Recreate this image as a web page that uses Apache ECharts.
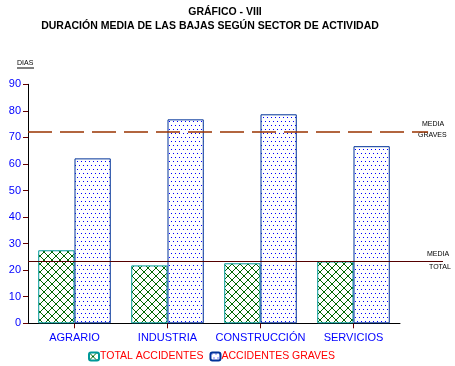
<!DOCTYPE html>
<html><head><meta charset="utf-8">
<script src="https://cdn.jsdelivr.net/npm/echarts@6/dist/echarts.min.js"></script>
<style>html,body{margin:0;padding:0;background:#fff}#c{width:455px;height:366px}</style>
</head><body><div id="c"></div>
<script>
const categories = ['AGRARIO', 'INDUSTRIA', 'CONSTRUCCIÓN', 'SERVICIOS'];
const totalAccidentes = [27.5, 21.8, 22.6, 23.3];
const accidentesGraves = [62.1, 76.8, 78.7, 66.7];
const mediaTotal = 23.3;
const mediaGraves = 72;
const yTicks = [0, 10, 20, 30, 40, 50, 60, 70, 80, 90];
const seriesNames = ['TOTAL ACCIDENTES', 'ACCIDENTES GRAVES'];

function hatch() {
  const c = document.createElement('canvas'); c.width = 8; c.height = 8;
  const g = c.getContext('2d');
  g.fillStyle = '#fff'; g.fillRect(0, 0, 8, 8);
  g.fillStyle = '#006600';
  for (let i = 0; i < 8; i++) { g.fillRect(i, i, 1, 1); g.fillRect(7 - i, i, 1, 1); }
  return c;
}
function dots() {
  const c = document.createElement('canvas'); c.width = 8; c.height = 8;
  const g = c.getContext('2d');
  g.fillStyle = '#fff'; g.fillRect(0, 0, 8, 8);
  g.fillStyle = '#0000ff';
  g.fillRect(1, 1, 1, 1); g.fillRect(5, 1, 1, 1);
  g.fillRect(3, 5, 1, 1); g.fillRect(7, 5, 1, 1);
  return c;
}
const greenPat = { image: hatch(), repeat: 'repeat' };
const bluePat = { image: dots(), repeat: 'repeat' };

const chart = echarts.init(document.getElementById('c'));
const lblFont = { color: '#0000ff', fontSize: 11, fontFamily: 'Liberation Sans, Arial' };
chart.setOption({
  animation: false,
  title: [
    { text: 'GRÁFICO - VIII', left: 220, top: 2, textAlign: 'center',
      textStyle: { fontSize: 10.5, fontWeight: 'bold', color: '#000', fontFamily: 'Liberation Sans, Arial' } },
    { text: 'DURACIÓN MEDIA DE LAS BAJAS SEGÚN SECTOR DE ACTIVIDAD', left: 205, top: 16, textAlign: 'center',
      textStyle: { fontSize: 10.5, fontWeight: 'bold', color: '#000', fontFamily: 'Liberation Sans, Arial' } }
  ],
  legend: {
    left: 88, top: 351, padding: 0, itemWidth: 10, itemHeight: 8, itemGap: 6,
    textStyle: { color: '#ff0000', fontSize: 10.5, fontFamily: 'Liberation Sans, Arial', padding: [0, 0, 0, -4] },
    data: seriesNames
  },
  grid: [
    { left: 28, right: 55, top: 84.3, bottom: 42.7 },
    { left: 28, right: 12, top: 84.3, bottom: 42.7 }
  ],
  xAxis: [
    { type: 'category', data: categories, gridIndex: 0,
      axisLine: { lineStyle: { color: '#000', width: 1 } },
      axisTick: { show: true, length: 5, alignWithLabel: true, lineStyle: { color: '#660000' } },
      axisLabel: Object.assign({ margin: 9, interval: 0 }, lblFont) },
    { type: 'value', gridIndex: 1, min: 0, max: 1, show: false }
  ],
  yAxis: [
    { type: 'value', gridIndex: 0, min: 0, max: 90, interval: 10,
      axisLine: { show: true, lineStyle: { color: '#000', width: 1 } },
      axisTick: { show: true, length: 5, lineStyle: { color: '#660000' } },
      axisLabel: Object.assign({ margin: 7, formatter: v => yTicks.includes(v) ? String(v) : '' }, lblFont),
      splitLine: { show: false } },
    { type: 'value', gridIndex: 1, min: 0, max: 90, show: false }
  ],
  series: [
    { name: seriesNames[0], type: 'bar', data: totalAccidentes, barGap: 0, barCategoryGap: '22%',
      itemStyle: { color: greenPat, borderColor: '#009999', borderWidth: 1 } },
    { name: seriesNames[1], type: 'bar', data: accidentesGraves, barGap: 0, barCategoryGap: '22%',
      itemStyle: { color: bluePat, borderColor: '#003399', borderWidth: 1 } },
    { type: 'line', xAxisIndex: 1, yAxisIndex: 1, data: [], silent: true,
      markLine: { symbol: 'none', silent: true, label: { show: false },
        data: [
          [{ coord: [0, mediaGraves], lineStyle: { color: '#993300', width: 1.5, type: [24, 8] } },
           { coord: [0.964, mediaGraves] }],
          [{ coord: [0, mediaTotal], lineStyle: { color: '#550000', width: 1.2, type: 'solid' } },
           { coord: [1, mediaTotal] }]
        ] } }
  ],
  graphic: [
    { type: 'text', left: 17, top: 60, style: { text: 'DIAS', fontSize: 7, fill: '#000', fontFamily: 'Liberation Sans, Arial' } },
    { type: 'line', shape: { x1: 17, y1: 68, x2: 34, y2: 68 }, style: { stroke: '#000', lineWidth: 1 } },
    { type: 'text', left: 422, top: 121, style: { text: 'MEDIA', fontSize: 7, fill: '#000', fontFamily: 'Liberation Sans, Arial' } },
    { type: 'text', left: 418, top: 132, style: { text: 'GRAVES', fontSize: 7, fill: '#000', fontFamily: 'Liberation Sans, Arial' } },
    { type: 'text', left: 427, top: 251, style: { text: 'MEDIA', fontSize: 7, fill: '#000', fontFamily: 'Liberation Sans, Arial' } },
    { type: 'text', left: 429, top: 264, style: { text: 'TOTAL', fontSize: 7, fill: '#000', fontFamily: 'Liberation Sans, Arial' } }
  ]
});
</script></body></html>
